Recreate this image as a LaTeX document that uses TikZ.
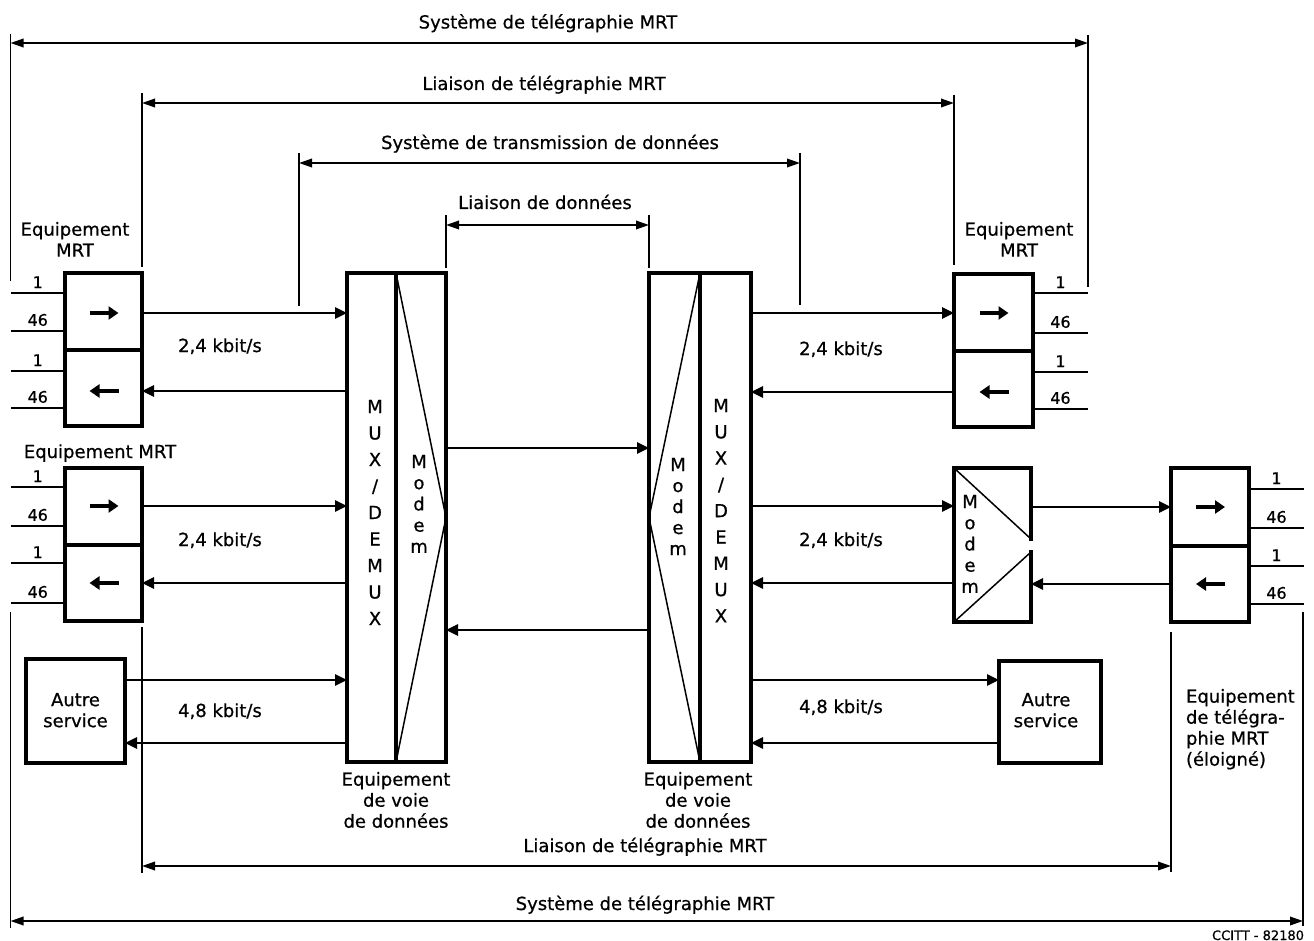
\documentclass[tikz,border=0pt]{standalone}
\usepackage{fontspec}
\setmainfont{DejaVu Sans}[FakeBold=0.7]
\usetikzlibrary{arrows.meta}
\begin{document}
\begin{tikzpicture}[x=1pt,y=-1pt,
  every node/.style={font=\fontsize{18}{21}\selectfont, inner sep=0pt, outer sep=0pt},
  blk/.style={draw, line width=3.2pt},
  conn/.style={line width=2.6pt, -{Triangle[length=12pt,width=11pt]}},
  dim/.style={line width=1.9pt, {Triangle[length=13pt,width=8.5pt]}-{Triangle[length=13pt,width=8.5pt]}},
  ext/.style={line width=1.4pt},
  inarr/.style={line width=3.8pt, -{Triangle[length=10pt,width=13pt]}},
  wire/.style={line width=2.6pt},
  diag/.style={line width=1.5pt},
  num/.style={font=\fontsize{16}{16}\selectfont},
  lbl/.style={anchor=base},
  mlbl/.style={anchor=north, align=center},
]
\useasboundingbox (0,0) rectangle (1314,941);

% ---------- boxes ----------
\node[blk, minimum width=77pt, minimum height=77pt] (eqA1) at (103.5,311.5) {};
\node[blk, minimum width=77pt, minimum height=76pt] (eqA2) at (103.5,388) {};
\node[blk, minimum width=77pt, minimum height=77pt] (eqB1) at (103.5,506.5) {};
\node[blk, minimum width=77pt, minimum height=76pt] (eqB2) at (103.5,583) {};
\node[blk, minimum width=99pt, minimum height=104pt] (autreL) at (75.5,711) {};
\node[blk, minimum width=49pt, minimum height=489pt] (muxL) at (371.5,517.5) {};
\node[blk, minimum width=50pt, minimum height=489pt] (modemL) at (421,517.5) {};
\node[blk, minimum width=51pt, minimum height=489pt] (modemR) at (674.5,517.5) {};
\node[blk, minimum width=51pt, minimum height=489pt] (muxR) at (725.5,517.5) {};
\node[blk, minimum width=79pt, minimum height=77pt] (eqC1) at (993.5,312.5) {};
\node[blk, minimum width=79pt, minimum height=76pt] (eqC2) at (993.5,389) {};
\node[minimum width=77pt, minimum height=154pt] (mdm) at (992.5,545) {};
\node[blk, minimum width=78pt, minimum height=78pt] (eqD1) at (1210,507) {};
\node[blk, minimum width=78pt, minimum height=76pt] (eqD2) at (1210,584) {};
\node[blk, minimum width=102pt, minimum height=102pt] (autreR) at (1050,712) {};

% modem box with gap on right side
\draw[blk, line cap=rect] (mdm.east |- 0,539) -- (mdm.north east) -- (mdm.north west)
   -- (mdm.south west) -- (mdm.south east) -- (mdm.east |- 0,552);
\draw[diag] (mdm.north west) -- (mdm.east |- 0,539);
\draw[diag] (mdm.south west) -- (mdm.east |- 0,552);

% modem triangles
\draw[diag] (modemL.north west) -- (modemL.east) -- (modemL.south west);
\draw[diag] (modemR.north east) -- (modemR.west) -- (modemR.south east);

% inner arrows
\draw[inarr] ([xshift=-14pt,yshift=-1.5pt]eqA1.center) -- ([xshift=15pt,yshift=-1.5pt]eqA1.center);
\draw[inarr] ([xshift=15pt,yshift=-3pt]eqA2.center) -- ([xshift=-14pt,yshift=-3pt]eqA2.center);
\draw[inarr] ([xshift=-14pt,yshift=0.5pt]eqB1.center) -- ([xshift=15pt,yshift=0.5pt]eqB1.center);
\draw[inarr] ([xshift=15pt,yshift=0pt]eqB2.center) -- ([xshift=-14pt,yshift=0pt]eqB2.center);
\draw[inarr] ([xshift=-14pt,yshift=-0.5pt]eqC1.center) -- ([xshift=15pt,yshift=-0.5pt]eqC1.center);
\draw[inarr] ([xshift=15pt,yshift=-3pt]eqC2.center) -- ([xshift=-14pt,yshift=-3pt]eqC2.center);
\draw[inarr] ([xshift=-14pt,yshift=0pt]eqD1.center) -- ([xshift=15pt,yshift=0pt]eqD1.center);
\draw[inarr] ([xshift=15pt,yshift=0pt]eqD2.center) -- ([xshift=-14pt,yshift=0pt]eqD2.center);

% ---------- connectors ----------
\draw[conn] (eqA1.east |- 0,313) -- (muxL.west |- 0,313);
\draw[conn] (muxL.west |- 0,391) -- (eqA2.east |- 0,391);
\draw[conn] (eqB1.east |- 0,506) -- (muxL.west |- 0,506);
\draw[conn] (muxL.west |- 0,583) -- (eqB2.east |- 0,583);
\draw[conn] (autreL.east |- 0,680) -- (muxL.west |- 0,680);
\draw[conn] (muxL.west |- 0,743) -- (autreL.east |- 0,743);
\draw[conn] (modemL.east |- 0,448) -- (modemR.west |- 0,448);
\draw[conn] (modemR.west |- 0,630) -- (modemL.east |- 0,630);
\draw[conn] (muxR.east |- 0,313) -- (eqC1.west |- 0,313);
\draw[conn] (eqC2.west |- 0,392) -- (muxR.east |- 0,392);
\draw[conn] (muxR.east |- 0,506) -- (mdm.west |- 0,506);
\draw[conn] (mdm.west |- 0,583) -- (muxR.east |- 0,583);
\draw[conn] (mdm.east |- 0,507) -- (eqD1.west |- 0,507);
\draw[conn] (eqD2.west |- 0,584) -- (mdm.east |- 0,584);
\draw[conn] (muxR.east |- 0,680) -- (autreR.west |- 0,680);
\draw[conn] (autreR.west |- 0,743) -- (muxR.east |- 0,743);

% ---------- wires with channel numbers ----------
\foreach \bx/\yy/\lab [count=\i] in {eqA1/293/1, eqA1/331/46, eqA2/371/1, eqA2/408/46,
                                     eqB1/487/1, eqB1/526/46, eqB2/563/1, eqB2/603/46}
  \draw[wire] (\bx.west |- 0,\yy) -- ++(-54.5,0) node[num, midway, above=5pt] (wl\i) {\lab};
\foreach \bx/\yy/\lab [count=\i] in {eqC1/293/1, eqC1/333/46, eqC2/372/1, eqC2/409/46}
  \draw[wire] (\bx.east |- 0,\yy) -- ++(55,0) node[num, midway, above=5pt] (wr\i) {\lab};
\foreach \bx/\yy/\lab [count=\i] in {eqD1/489/1, eqD1/528/46, eqD2/566/1, eqD2/604/46}
  \draw[wire] (\bx.east |- 0,\yy) -- ++(55,0) node[num, midway, above=5pt] (wd\i) {\lab};

% ---------- letters in MUX / modem ----------
\foreach \c [count=\i] in {M,U,X,/,D,E,M,U,X}
  \node[lbl] (ml\i) at (375,{413+26.5*(\i-1)}) {\c};
\foreach \c [count=\i] in {M,U,X,/,D,E,M,U,X}
  \node[lbl] (mr\i) at (721,{412+26.3*(\i-1)}) {\c};
\foreach \c [count=\i] in {M,o,d,e,m}
  \node[lbl] (ol\i) at (419,{468+21.2*(\i-1)}) {\c};
\foreach \c [count=\i] in {M,o,d,e,m}
  \node[lbl] (or\i) at (678,{471+21*(\i-1)}) {\c};
\foreach \c [count=\i] in {M,o,d,e,m}
  \node[lbl] (om\i) at (970,{508+21.2*(\i-1)}) {\c};

% ---------- dimension lines ----------
\coordinate (d1a) at (10.5,43);  \coordinate (d1b) at (1088,43);
\coordinate (d2a) at (eqA1.east |- 0,103); \coordinate (d2b) at (eqC1.west |- 0,103);
\coordinate (d3a) at (299,163);  \coordinate (d3b) at (800,163);
\coordinate (d4a) at (modemL.east |- 0,225); \coordinate (d4b) at (modemR.west |- 0,225);
\coordinate (d5a) at (eqB2.east |- 0,866); \coordinate (d5b) at (eqD2.west |- 0,866);
\coordinate (d6a) at (10.5,921); \coordinate (d6b) at (1303,921);
\draw[dim] (d1a) -- (d1b);
\draw[dim] (d2a) -- (d2b);
\draw[dim] (d3a) -- (d3b);
\draw[dim] (d4a) -- (d4b);
\draw[dim] (d5a) -- (d5b);
\draw[dim] (d6a) -- (d6b);
\draw[ext] (10.5,34) -- (10.5,281);
\draw[ext] (1088,35) -- (1088,287);
\draw[ext] (142,93) -- (142,267);
\draw[ext] (954,95) -- (954,265);
\draw[ext] (299,153) -- (299,306);
\draw[ext] (800,153) -- (800,305);
\draw[ext] (446,215) -- (446,268);
\draw[ext] (649,215) -- (649,268);
\draw[ext] (142,627) -- (142,873);
\draw[ext] (1171,632) -- (1171,872);
\draw[ext] (10.5,612) -- (10.5,928);
\draw[ext] (1303,612) -- (1303,926);

% ---------- texts ----------
\node[lbl] (t1) at (548,28.5) {Système de télégraphie MRT};
\node[lbl] (t2) at (544,90) {Liaison de télégraphie MRT};
\node[lbl] (t3) at (550,149) {Système de transmission de données};
\node[lbl] (t4) at (545,209) {Liaison de données};
\node[mlbl] (eqAl) at (75,222) {Equipement\\MRT};
\node[mlbl] (eqCl) at (1019,222) {Equipement\\MRT};
\node[lbl] (eqBl) at (100,458) {Equipement MRT};
\node[lbl] (r1) at (220,352) {2,4 kbit/s};
\node[lbl] (r2) at (220,546) {2,4 kbit/s};
\node[lbl] (r3) at (220,717) {4,8 kbit/s};
\node[lbl] (r4) at (841,355) {2,4 kbit/s};
\node[lbl] (r5) at (841,546) {2,4 kbit/s};
\node[lbl] (r6) at (841,713) {4,8 kbit/s};
\node[mlbl] (aL) at (autreL.center |- 0,693) {Autre\\service};
\node[mlbl] (aR) at (1046,693) {Autre\\service};
\node[mlbl] (vL) at (396,772) {Equipement\\de voie\\de données};
\node[mlbl] (vR) at (698,772) {Equipement\\de voie\\de données};
\node[lbl] (t5) at (645,852) {Liaison de télégraphie MRT};
\node[lbl] (t6) at (645,910) {Système de télégraphie MRT};
\node[anchor=north west, align=left] (rem) at (1186,689) {Equipement\\de télégra-\\phie MRT\\(éloigné)};
\node[anchor=base east, font=\fontsize{13}{13}\selectfont] (cc) at (1304,940) {CCITT - 82180};
\end{tikzpicture}
\end{document}
